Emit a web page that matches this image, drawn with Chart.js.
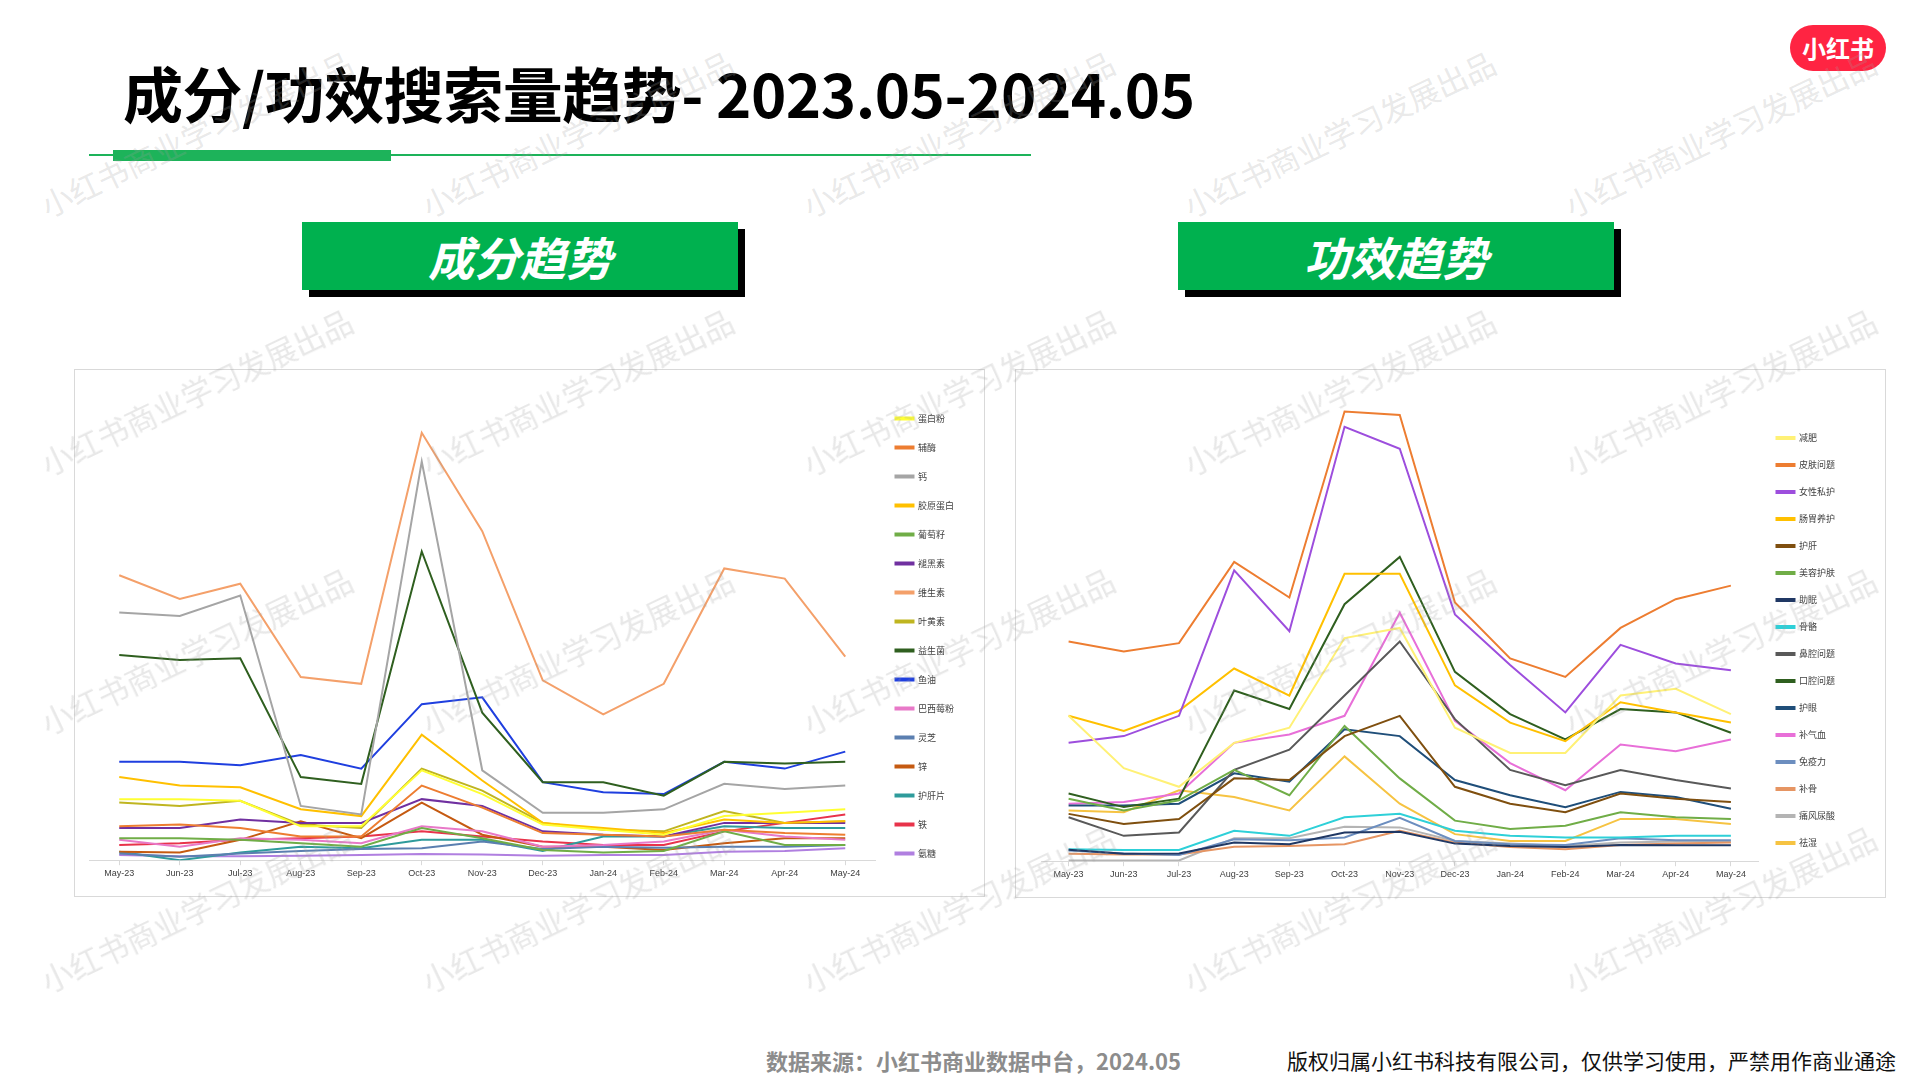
<!DOCTYPE html>
<html>
<head>
<meta charset="utf-8">
<script src="https://cdn.jsdelivr.net/npm/chart.js@4"></script>
<style>
  html, body { margin: 0; padding: 0; background: #fff; }
  body { width: 1920px; height: 1080px; position: relative; overflow: hidden; font-family: "Noto Sans CJK SC", sans-serif; }
  .title { position: absolute; left: 123px; top: 48px; font-size: 60px; font-weight: 700; color: #000; letter-spacing: -0.5px; }
  .rule { position: absolute; left: 89px; top: 154px; width: 942px; height: 2px; background: #1db35a; }
  .rule-bar { position: absolute; left: 113px; top: 150px; width: 278px; height: 11px; background: #1db35a; }
  .logo { position: absolute; left: 1790px; top: 25px; width: 96px; height: 46px; border-radius: 23px; background: #ff2442; color: #fff; font-weight: 700; font-size: 24px; text-align: center; line-height: 46px; }
  .tag { position: absolute; top: 222px; width: 436px; height: 68px; background: #00b14f; box-shadow: 7px 7px 0 #000; color: #fff; font-size: 46px; font-weight: 700; font-style: italic; text-align: center; line-height: 68px; }
  .panel { position: absolute; top: 369px; background: #fff; border: 1px solid #d9d9d9; box-sizing: border-box; }
  .foot1 { position: absolute; left: 766px; top: 1044px; font-size: 22px; font-weight: 700; color: #8c8c8c; }
  .foot2 { position: absolute; left: 1287px; top: 1045px; font-size: 21px; color: #111; }
  .wm { position: absolute; font-size: 31px; color: rgba(160,160,160,0.24); transform: translate(-50%,-50%) rotate(-25.5deg); white-space: nowrap; pointer-events: none; z-index: 5; }
</style>
</head>
<body>
<div class="title">成分/功效搜索量趋势- 2023.05-2024.05</div>
<div class="rule"></div>
<div class="rule-bar"></div>
<div class="logo">小红书</div>
<div class="tag" style="left:302px">成分趋势</div>
<div class="tag" style="left:1178px">功效趋势</div>
<div class="panel" style="left:74px;width:911px;height:528px"><canvas id="left"></canvas></div>
<div class="panel" style="left:1015px;width:871px;height:529px"><canvas id="right"></canvas></div>
<div class="foot1">数据来源：小红书商业数据中台，2024.05</div>
<div class="foot2">版权归属小红书科技有限公司，仅供学习使用，严禁用作商业通途</div>
<div id="wms"></div>
<script>
const months = ['May-23','Jun-23','Jul-23','Aug-23','Sep-23','Oct-23','Nov-23','Dec-23','Jan-24','Feb-24','Mar-24','Apr-24','May-24'];

// 成分 (ingredients)
const ingNames = ['蛋白粉','辅酶','钙','胶原蛋白','葡萄籽','褪黑素','维生素','叶黄素','益生菌','鱼油','巴西莓粉','灵芝','锌','护肝片','铁','氨糖'];
const ingColors = ['#ffff33','#ed7d31','#a5a5a5','#ffc000','#70ad47','#7030a0','#f4a06a','#bfb520','#2f5f1f','#1f3fdf','#e879c8','#5b7fb0','#c55a11','#2e9b9b','#e8334a','#b07fe0'];
const ingValues = [
  [18,18,17.5,10,10,26.5,19.5,10.5,9,7.5,13,14,15],
  [10,10.5,9.5,7,7,22,15.5,8,7.5,7,9,8,7.5],
  [73,72,78,16,13.5,117.5,26.5,14,14,15,22.5,21,22],
  [24.5,22,21.5,15,13,37,23.5,11,9.5,8,12,11,11.5],
  [6.5,6.5,6,5,4,9.5,6.5,3,2.3,2.7,8.5,4.5,4.5],
  [9.5,9.5,12,11,11,18,16,8.5,7.5,7,11,11,11],
  [84,77,81.5,54,52,126,97,53,43,52,86,83,60],
  [17,16,17.5,10.5,9.5,27,20.5,11,9,8.5,14.5,11,11.5],
  [60.5,59,59.5,24.5,22.5,91,43.5,23,23,19,29,28.5,29],
  [29,29,28,31,27,46,48,23,20,19.5,29,27,32],
  [6,4,6.5,6,5,10,8.5,4,4.5,5.5,9,7,6],
  [2,1,2,2.7,3.3,3.5,5.5,3.3,4,3.7,4,4,4.5],
  [2.5,2.3,6,11.5,6.5,17,7.5,4,4,3,5,6.5,6.5],
  [2.5,0,2.3,4,3.5,6,6,2.7,7,7,10,9.5,9.5],
  [4.5,5,6,6.5,7,8.5,7,5.5,4.5,4.5,8.5,11,13.5],
  [1.5,1.2,1.2,1.3,1.5,1.8,1.7,1.3,1.5,1.5,2.5,2.7,3.5]
];

// 功效 (effects)
const effNames = ['减肥','皮肤问题','女性私护','肠胃养护','护肝','美容护肤','助眠','骨骼','鼻腔问题','口腔问题','护眼','补气血','免疫力','补骨','痛风尿酸','祛湿'];
const effColors = ['#fff176','#ed7d31','#9d4edd','#ffc000','#7f4f0f','#70ad47','#203864','#2ed0d8','#595959','#2f5f1f','#1f4e79','#e86fd8','#6c8ebf','#e69563','#b4b4b4','#f6c342'];
const effValues = [
  [43,27.5,22,35,39.5,66,69,39.5,32,32,49,51,43.5],
  [65,62,64.5,88.5,78,133,132,76.5,60,54.5,69,77.5,81.5],
  [35,37,43,86,68,128.5,122,73,58,44,64,58.5,56.5],
  [43,38.5,44.5,57,49,85,85,52,41,35.5,47,44,41],
  [14,11,12.5,24.5,24,37,43,22,17,14.5,20,18.5,17.5],
  [18.5,15,18,27,19.5,40,24.5,12,9.5,10.5,14.5,13,12.5],
  [3.4,2.2,2.3,5.5,5,8.5,8.7,5.2,4.5,4.2,4.8,4.7,4.7],
  [3.5,3.3,3.3,9,7.5,13,14,9,7.5,7,7,7.5,7.5],
  [13,7.5,8.5,27,33,49,65,42,27,22.5,27,24,21.5],
  [20,16,18.5,50.5,45,76,90,56,43.5,36,45,44,38],
  [16.5,16.5,17,26,23.5,39,37,24,19.5,16,20.5,19,15.5],
  [17,17.5,20,35,37.5,43,73.5,41.5,29,21,34.5,32.5,36],
  [3.2,2.3,1.8,6.5,6.2,7,12.8,6,5,4.8,6.8,6.2,6.2],
  [2.2,2,2,4.3,4.5,5,9,5.5,4.2,3.5,4.8,5.2,5.5],
  [0.2,0.2,0.2,6.8,6.8,10.2,10,6,5.2,4.5,5.5,5.8,5.8],
  [15,14.5,21,19,15,31,17,8,6,6,12.5,12.5,11]
];

function makeChart(id, names, colors, values, yMax, pad, legPad) {
  new Chart(document.getElementById(id), {
    type: 'line',
    data: {
      labels: months,
      datasets: names.map((n, i) => ({
        label: n,
        data: values[i],
        borderColor: colors[i],
        backgroundColor: colors[i],
        borderWidth: 2,
        pointRadius: 0,
        tension: 0
      }))
    },
    options: {
      responsive: false,
      animation: false,
      layout: { padding: pad },
      plugins: {
        tooltip: { enabled: false },
        legend: {
          position: 'right',
          labels: {
            boxWidth: 18, boxHeight: 2, padding: legPad,
            color: '#404040',
            font: { size: 9, family: 'Noto Sans CJK SC' }
          }
        }
      },
      scales: {
        x: {
          offset: true,
          grid: { drawOnChartArea: false, drawTicks: true, tickLength: 5, color: '#d9d9d9' },
          border: { color: '#d9d9d9' },
          ticks: { color: '#404040', font: { size: 9, family: 'Liberation Sans' }, maxRotation: 0, autoSkip: false }
        },
        y: { display: false, min: 0, max: yMax }
      }
    }
  });
}

const lc = document.getElementById('left'); lc.width = 909; lc.height = 526;
const rc = document.getElementById('right'); rc.width = 869; rc.height = 527;
makeChart('left', ingNames, ingColors, ingValues, 138.6, { top: 20, left: 14, right: 20, bottom: 14 }, 20);
makeChart('right', effNames, effColors, effValues, 137, { top: 28, left: 25, right: 40, bottom: 14 }, 18);

// watermarks
const wmRows = [133, 391, 650, 908];
const wmCols = [196, 577, 958, 1339, 1720];
const wms = document.getElementById('wms');
wmRows.forEach(y => wmCols.forEach(x => {
  const d = document.createElement('div');
  d.className = 'wm';
  d.style.left = x + 'px';
  d.style.top = y + 'px';
  d.textContent = '小红书商业学习发展出品';
  wms.appendChild(d);
}));
</script>
</body>
</html>
